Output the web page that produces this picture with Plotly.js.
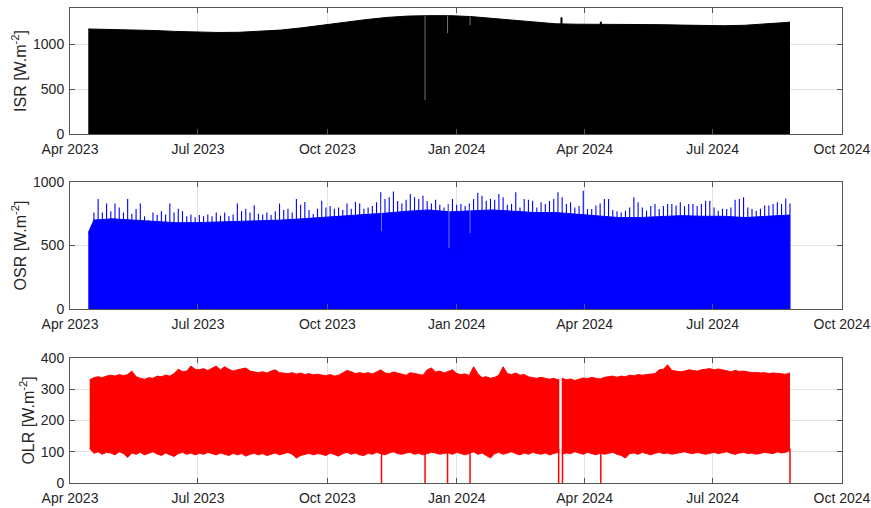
<!DOCTYPE html>
<html>
<head>
<meta charset="utf-8">
<script src="https://cdn.plot.ly/plotly-3.0.1.min.js"></script>
<style>html,body{margin:0;padding:0;background:#fff;}#chart{width:871px;height:508px;}</style>
</head>
<body>
<div id="chart"></div>
<script>
// ---------- DATA ----------
// ISR daily-maximum envelope
const isrDates = ['2023-04-14','2023-05-01','2023-05-16','2023-05-31','2023-06-15','2023-06-30','2023-07-15','2023-07-30','2023-08-14','2023-08-29','2023-09-13','2023-09-28','2023-10-13','2023-10-28','2023-11-12','2023-11-27','2023-12-12','2023-12-27','2024-01-11','2024-01-26','2024-02-10','2024-02-25','2024-03-11','2024-03-26','2024-04-10','2024-04-25','2024-05-10','2024-05-25','2024-06-09','2024-06-24','2024-07-09','2024-07-24','2024-08-08','2024-08-23','2024-08-25'];
const isrValues = [1167,1163,1160,1150,1140,1132,1128,1130,1140,1155,1180,1210,1245,1270,1295,1310,1315,1315,1305,1285,1262,1240,1225,1220,1220,1218,1218,1215,1210,1205,1203,1208,1220,1240,1245];
// ISR short dips (day maximum lower than envelope) and spikes
const isrDipDates = ['2023-12-09T12:00','2023-12-25T12:00','2024-01-10T12:00'];
const isrDipLow = [378,1120,1210];
const isrDipHigh = [1315,1315,1305];
const isrSpikeDates = ['2024-03-15T12:00','2024-04-12T12:00'];
const isrSpikeValues = [1296,1248];

// OSR: solid body level (envelope of the dense fill)
const osrBaseDates = ['2023-04-14','2023-04-18','2023-05-01','2023-05-16','2023-05-31','2023-06-15','2023-06-30','2023-07-15','2023-07-30','2023-08-14','2023-08-29','2023-09-13','2023-09-28','2023-10-13','2023-10-28','2023-11-12','2023-11-27','2023-12-12','2023-12-27','2024-01-11','2024-01-26','2024-02-10','2024-02-25','2024-03-11','2024-03-26','2024-04-10','2024-04-25','2024-05-10','2024-05-25','2024-06-09','2024-06-24','2024-07-09','2024-07-24','2024-08-08','2024-08-23','2024-08-25'];
const osrBase = [600,700,710,700,690,680,680,685,690,690,700,710,720,730,745,755,770,780,765,770,780,770,760,760,745,730,720,720,730,735,730,730,720,730,740,740];

// regular 3-day samples of daily maxima, starting 2023-04-15
const sampleStart = '2023-04-15';
const sampleStepDays = 3;

const osrMax = [
600,760,866,760,830,770,830,800,760,866,
750,787,830,730,700,760,740,770,745,830,
760,790,770,730,745,722,740,730,745,730,
760,735,760,730,745,830,770,790,760,816,
750,745,760,740,770,830,780,790,760,866,
820,843,780,748,790,853,800,810,790,800,
780,830,790,843,830,790,800,810,840,919,
866,880,925,850,830,860,905,880,866,892,
850,830,860,820,800,
827,866,820,827,810,830,866,915,892,853,
866,860,905,880,820,827,919,800,866,860,
853,800,840,827,850,866,919,879,827,840,
800,810,932,787,787,815,830,866,866,780,
770,760,774,800,880,840,800,774,810,827,
787,810,827,827,815,840,810,827,827,810,
827,853,853,800,774,790,787,800,860,866,
879,800,787,774,790,815,815,827,840,827,
870,830];
const osrDipDates = ['2023-11-08T12:00','2023-12-26T12:00','2024-01-10T12:00'];
const osrDipLow = [614,480,598];
const osrDipHigh = [880,830,820];

const olrUpper = [
330,337,340,337,342,345,342,347,343,347,
358,340,335,332,337,335,342,340,345,342,
350,364,356,358,374,364,362,366,360,368,
374,362,372,364,358,362,364,368,358,355,
353,356,352,358,362,353,352,350,353,348,
352,347,350,346,348,345,343,347,342,345,
352,360,356,350,353,350,353,349,355,362,
352,350,355,352,350,345,353,350,348,345,
362,368,355,358,352,
358,362,350,347,349,344,372,350,337,340,
335,338,345,372,350,347,352,345,347,340,
337,335,338,334,332,335,330,335,330,333,
328,332,336,334,338,335,333,338,340,342,
338,342,340,345,343,347,345,346,348,350,
362,364,378,360,358,356,358,362,360,358,
362,364,366,362,365,362,358,356,360,357,
358,355,353,354,352,353,350,352,351,350,
348,352];
const olrLower = [
110,95,100,92,98,96,90,100,94,82,
96,92,98,90,95,100,93,88,96,90,
85,94,98,92,96,90,95,92,98,94,
90,96,92,88,95,90,94,86,92,95,
90,94,88,92,96,90,94,98,92,80,
88,92,95,90,94,92,88,96,90,86,
94,98,92,96,90,88,95,92,98,94,
90,96,100,94,92,96,98,92,95,90,
94,98,96,92,95,
96,92,98,94,90,95,100,92,96,88,
80,94,98,92,96,100,94,90,96,92,
98,95,92,96,90,94,98,92,96,94,
100,96,92,98,94,90,96,92,95,98,
92,88,80,94,96,92,98,94,90,95,
98,94,96,92,95,98,100,96,94,98,
96,92,95,98,94,96,100,95,92,96,
98,94,96,92,95,98,96,94,100,96,
98,105];
// OLR dropouts to zero and the data gap
const olrDropDates = ['2023-11-08T12:00','2023-12-09T12:00','2023-12-25T12:00','2024-01-10T12:00','2024-03-13T12:00','2024-03-16T06:00','2024-04-12T12:00','2024-08-25T00:00'];
const olrDropLow = [0,0,0,0,0,0,0,0];
const olrDropHigh = [110,110,110,110,110,110,110,110];
const olrGapDates = ['2024-03-14T20:00'];
const olrGapLow = [75];
const olrGapHigh = [385];

const tickStart = '2023-04-01';
const xRange = ['2023-04-01','2024-10-01'];

// ---------- BUILD ----------
function sampleDates(n){
  const t0 = Date.parse(sampleStart + 'T00:00:00Z');
  const out = [];
  for (let i = 0; i < n; i++) out.push(new Date(t0 + i*sampleStepDays*86400000).toISOString().slice(0,19));
  return out;
}
function segments(dates, lows, highs){
  const x = [], y = [];
  dates.forEach((d,i)=>{ x.push(d,d,null); y.push(lows[i],highs[i],null); });
  return {x, y};
}
const sx = sampleDates(osrMax.length);

const traces = [];
traces.push({x: isrDates, y: isrValues, type:'scatter', mode:'lines', fill:'tozeroy',
  fillcolor:'#000000', line:{color:'#000000', width:1}, xaxis:'x', yaxis:'y'});
let s = segments(isrDipDates, isrDipLow, isrDipHigh);
traces.push({x:s.x, y:s.y, type:'scatter', mode:'lines', line:{color:'rgba(255,255,255,0.45)', width:1}, xaxis:'x', yaxis:'y'});
s = segments(isrSpikeDates, isrSpikeDates.map(()=>0), isrSpikeValues);
traces.push({x:s.x, y:s.y, type:'scatter', mode:'lines', line:{color:'#000000', width:2}, xaxis:'x', yaxis:'y'});

traces.push({x: osrBaseDates, y: osrBase, type:'scatter', mode:'lines', fill:'tozeroy',
  fillcolor:'#0000ff', line:{color:'#0000ff', width:1}, xaxis:'x2', yaxis:'y2'});
s = segments(sx, sx.map(()=>0), osrMax);
traces.push({x:s.x, y:s.y, type:'scatter', mode:'lines', line:{color:'#0000ff', width:1.1}, xaxis:'x2', yaxis:'y2'});
s = segments(osrDipDates, osrDipLow, osrDipHigh);
traces.push({x:s.x, y:s.y, type:'scatter', mode:'lines', line:{color:'rgba(255,255,255,0.45)', width:1}, xaxis:'x2', yaxis:'y2'});

traces.push({x: sx, y: olrUpper, type:'scatter', mode:'lines',
  line:{color:'#ff0000', width:1}, xaxis:'x3', yaxis:'y3'});
traces.push({x: sx, y: olrLower, type:'scatter', mode:'lines', fill:'tonexty',
  fillcolor:'#ff0000', line:{color:'#ff0000', width:1}, xaxis:'x3', yaxis:'y3'});
s = segments(olrGapDates, olrGapLow, olrGapHigh);
traces.push({x:s.x, y:s.y, type:'scatter', mode:'lines', line:{color:'#ffffff', width:2.5}, xaxis:'x3', yaxis:'y3'});
s = segments(olrDropDates, olrDropLow, olrDropHigh);
traces.push({x:s.x, y:s.y, type:'scatter', mode:'lines', line:{color:'#ff0000', width:1.5}, xaxis:'x3', yaxis:'y3'});

const font = {family:'"Liberation Sans", Arial, Helvetica, sans-serif', size:14, color:'#262626'};
const titleFont = {family:'"Liberation Sans", Arial, Helvetica, sans-serif', size:16, color:'#262626'};
function xAx(anchor){
  return {anchor, type:'date', range:xRange, tick0:tickStart, dtick:'M3', tickformat:'%b %Y',
    ticks:'inside', ticklen:5, tickcolor:'#555', showline:true, linecolor:'#555', linewidth:1,
    mirror:'ticks', showgrid:true, gridcolor:'#e3e3e3', zeroline:false, tickfont:font, automargin:false,
    ticklabelstandoff:2};
}
function yAx(anchor, domain, range, dtick, title){
  return {anchor, domain, range, dtick, tick0:0, ticks:'inside', ticklen:5, tickcolor:'#555',
    showline:true, linecolor:'#555', linewidth:1, mirror:'ticks', showgrid:true, gridcolor:'#e3e3e3',
    zeroline:false, tickfont:font, automargin:false, ticklabelstandoff:2,
    title:{text:title, font:titleFont, standoff:2}};
}
const layout = {
  width:871, height:508, margin:{l:70, r:29, t:8, b:25},
  paper_bgcolor:'#ffffff', plot_bgcolor:'#ffffff', showlegend:false, hovermode:false,
  xaxis: xAx('y'), xaxis2: xAx('y2'), xaxis3: xAx('y3'),
  yaxis: yAx('x', [0.7347,1], [0,1400], 500, 'ISR [W.m<sup>-2</sup>]'),
  yaxis2: yAx('x2', [0.3663,0.6337], [0,1000], 500, 'OSR [W.m<sup>-2</sup>]'),
  yaxis3: yAx('x3', [0,0.2632], [0,400], 100, 'OLR [W.m<sup>-2</sup>]')
};
Plotly.newPlot('chart', traces, layout, {staticPlot:true, displayModeBar:false});
</script>
</body>
</html>
